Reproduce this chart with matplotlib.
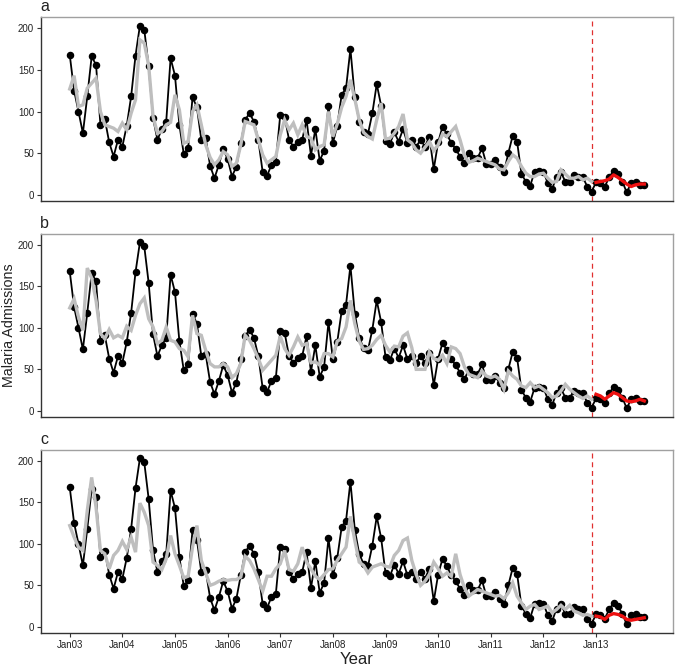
import numpy as np
import matplotlib
matplotlib.use("Agg")
import matplotlib.pyplot as plt

plt.rcParams['font.family'] = ['Liberation Sans', 'DejaVu Sans']

year_labels = ["Jan03", "Jan04", "Jan05", "Jan06", "Jan07", "Jan08",
               "Jan09", "Jan10", "Jan11", "Jan12", "Jan13"]
panel_labels = ["a", "b", "c"]

observed = [
    168, 125, 100, 74, 118, 166, 156, 84, 91, 63, 46, 66,
    58, 83, 118, 167, 203, 198, 154, 92, 66, 79, 88, 164,
    143, 84, 49, 56, 117, 105, 66, 68, 35, 20, 36, 55,
    43, 22, 34, 62, 90, 98, 88, 66, 27, 23, 36, 40,
    96, 94, 66, 58, 64, 66, 90, 47, 79, 41, 53, 107,
    62, 83, 120, 128, 175, 117, 88, 76, 73, 98, 133, 107,
    65, 61, 75, 64, 79, 62, 66, 58, 66, 58, 70, 31,
    63, 82, 73, 62, 55, 46, 38, 50, 44, 44, 56, 37,
    37, 42, 34, 27, 50, 71, 64, 25, 16, 11, 28, 29,
    28, 14, 7, 22, 27, 16, 16, 24, 22, 21, 10, 4,
    15, 14, 10, 21, 29, 25, 16, 3, 14, 16, 12, 12,
]

fit_a = [
    127, 143, 106, 108, 128, 134, 140, 100, 84, 82, 80, 76,
    86, 78, 98, 114, 186, 182, 155, 94, 74, 76, 84, 87,
    120, 102, 62, 64, 100, 108, 84, 60, 45, 36, 42, 52,
    48, 34, 38, 60, 88, 86, 84, 66, 48, 38, 42, 46,
    72, 90, 78, 86, 72, 84, 70, 68, 54, 58, 60, 100,
    70, 85, 105, 118, 138, 115, 90, 75, 70, 67, 90, 110,
    67, 68, 74, 82, 97, 66, 62, 54, 50, 57, 64, 53,
    60, 73, 70, 76, 82, 66, 47, 39, 41, 44, 42, 40,
    38, 36, 31, 30, 40, 48, 44, 34, 26, 22, 22, 25,
    26, 20, 15, 16, 30, 25, 20, 20, 22, 18, 20, 16,
]
fit_b = [
    124, 135, 113, 97, 172, 160, 133, 93, 87, 98, 88, 91,
    88, 102, 97, 115, 129, 136, 111, 101, 81, 85, 101, 85,
    83, 75, 73, 65, 115, 93, 91, 73, 57, 53, 53, 57,
    53, 40, 45, 57, 91, 85, 75, 63, 49, 55, 61, 67,
    90, 75, 67, 77, 89, 79, 81, 58, 59, 55, 69, 69,
    65, 84, 87, 101, 133, 105, 84, 74, 75, 79, 86, 91,
    79, 71, 78, 77, 90, 94, 76, 50, 50, 50, 71, 63,
    61, 67, 57, 77, 75, 69, 53, 44, 42, 40, 48, 42,
    40, 42, 38, 26, 48, 42, 38, 30, 28, 34, 28, 30,
    26, 22, 16, 18, 24, 32, 26, 22, 18, 15, 18, 14,
]
fit_c = [
    122, 108, 96, 92, 140, 180, 144, 92, 88, 70, 86, 92,
    103, 93, 108, 90, 149, 138, 122, 78, 74, 69, 82, 110,
    88, 74, 59, 61, 96, 122, 80, 65, 50, 52, 55, 57,
    56, 57, 57, 60, 85, 80, 70, 57, 43, 61, 61, 70,
    76, 92, 69, 67, 76, 96, 78, 70, 61, 57, 63, 69,
    70, 80, 88, 96, 133, 104, 78, 74, 65, 72, 74, 76,
    73, 72, 86, 92, 104, 107, 80, 63, 50, 55, 63, 78,
    70, 61, 65, 61, 88, 63, 47, 37, 41, 45, 43, 41,
    39, 37, 38, 34, 41, 53, 37, 29, 21, 25, 27, 21,
    23, 25, 17, 21, 26, 21, 26, 19, 17, 14, 15, 13,
]
forecast_a = [15, 16, 17, 19, 24, 21, 17, 13, 10, 12, 13, 13]
forecast_b = [20, 18, 14, 18, 22, 20, 16, 12, 11, 12, 14, 12]
forecast_c = [13, 12, 9, 14, 16, 15, 13, 9, 8, 9, 10, 11]

fits = [fit_a, fit_b, fit_c]
forecasts = [forecast_a, forecast_b, forecast_c]

months = np.arange(len(observed))
n_fit = len(fit_a)
fc_months = np.arange(n_fit, n_fit + len(forecast_a))
cutoff = n_fit - 1  # last month used for fitting (Dec 2012)
year_ticks = np.arange(len(year_labels)) * 12

W, H = 675, 666
fig = plt.figure(figsize=(W / 100, H / 100), dpi=100)

left = 41 / W
width = 632 / W
tops = [17.3, 234, 450]
heights = [183.4, 182.7, 182.7]

span = months[-1] - months[0]
xpad = 0.05 * span

for i in range(3):
    ax = fig.add_axes([left, 1 - (tops[i] + heights[i]) / H, width, heights[i] / H])
    ax.plot(months, observed, color='black', lw=1.3, marker='o',
            markersize=4.4, zorder=2)
    ax.plot(months[:n_fit], fits[i], color='#BEBEBE', lw=2.4, zorder=3,
            solid_joinstyle='miter')
    ax.plot(fc_months, forecasts[i], color='#EE1111', lw=2.4, zorder=4)
    ax.axvline(cutoff, color='#E03030', lw=0.9, ls=(0, (4, 3)), zorder=1)

    ax.set_xlim(months[0] - xpad, months[-1] + xpad)
    ax.set_ylim(-7, 213)
    ax.set_yticks([0, 50, 100, 150, 200])
    ax.set_xticks(year_ticks)
    ax.tick_params(axis='both', labelsize=7, length=3, width=0.8,
                   color='#333333', labelcolor='#222222', pad=2)
    if i < 2:
        ax.tick_params(axis='x', labelbottom=False, length=0)
    else:
        ax.set_xticklabels(year_labels)
    for s in ['top', 'right']:
        ax.spines[s].set_color('#A0A0A0')
        ax.spines[s].set_linewidth(1.0)
    for s in ['left', 'bottom']:
        ax.spines[s].set_color('#333333')
        ax.spines[s].set_linewidth(1.0)
    fig.text(left - 0.001, 1 - (tops[i] - 6) / H, panel_labels[i],
             fontsize=11.5, ha='left', va='baseline', color='#222222')

fig.text(2 / W, 1 - 325 / H, "Malaria Admissions", rotation=90,
         fontsize=10.3, ha='left', va='center', color='#222222')
fig.text(357 / W, 1 - 659 / H, "Year", fontsize=12, ha='center',
         va='center', color='#222222')

fig.savefig("out.png", dpi=100)
